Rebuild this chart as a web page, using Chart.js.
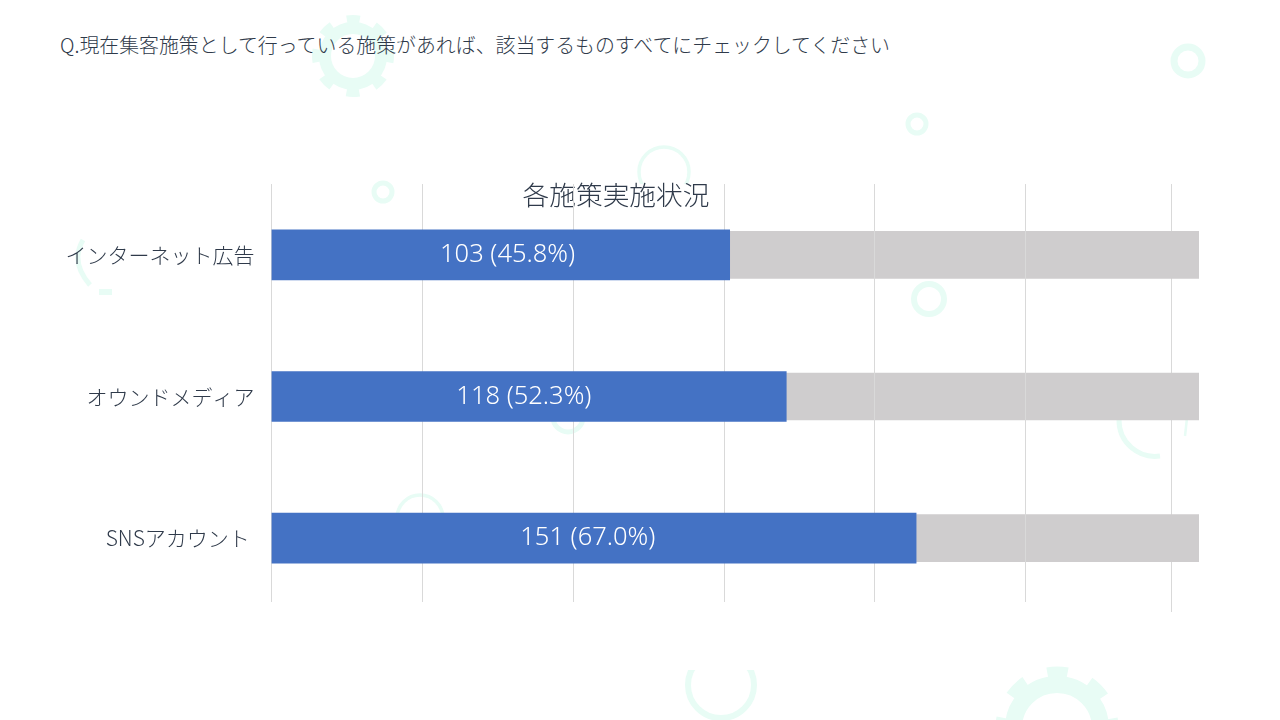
<!DOCTYPE html>
<html lang="ja">
<head>
<meta charset="utf-8">
<title>各施策実施状況</title>
<script src="https://cdn.jsdelivr.net/npm/chart.js@4"></script>
<style>
  html, body { margin: 0; padding: 0; background: #fff; overflow: hidden; }
  #stage { position: relative; width: 1280px; height: 720px; }
  #decor, #chart { position: absolute; left: 0; top: 0; }
  #question {
    position: absolute; left: 60px; top: 30px; white-space: nowrap;
    font: 300 19.9px "Noto Sans CJK JP", sans-serif; line-height: 30px; color: #2f3a4a;
  }
</style>
</head>
<body>
<div id="stage">
  <svg id="decor" width="1280" height="720" fill="none" stroke="#e8fcf5">
    <circle cx="353" cy="56" r="28" stroke-width="12"/>
    <circle cx="353" cy="56" r="37" stroke-width="8" stroke-dasharray="13 16.06" stroke-dashoffset="6.5"/>
    <circle cx="664" cy="172" r="25" stroke-width="3.5"/>
    <rect x="630" y="184" width="70" height="20" fill="#fff" stroke="none"/>
    <circle cx="1188" cy="61" r="14" stroke-width="7"/>
    <circle cx="917" cy="124" r="9" stroke-width="5"/>
    <circle cx="383" cy="192" r="9" stroke-width="5"/>
    <circle cx="929" cy="299" r="15" stroke-width="6"/>
    <circle cx="568" cy="417" r="15" stroke-width="5"/>
    <circle cx="420" cy="518" r="23" stroke-width="3.5"/>
    <path d="M83 240 Q70 262 90 285" stroke-width="5"/>
    <rect x="99" y="289" width="13" height="6" fill="#e8fcf5" stroke="none"/>
    <path d="M1119 420 A36 36 0 0 0 1160 456" stroke-width="5"/>
    <path d="M1187 418 L1185 436" stroke-width="2.5"/>
    <circle cx="721" cy="685" r="33" stroke-width="6"/>
    <rect x="680" y="640" width="80" height="30" fill="#fff" stroke="none"/>
    <circle cx="1057" cy="728" r="43.5" stroke-width="17"/>
    <circle cx="1057" cy="728" r="55" stroke-width="13" stroke-dasharray="20 23.2" stroke-dashoffset="10"/>
  </svg>
  <div id="question">Q.現在集客施策として行っている施策があれば、該当するものすべてにチェックしてください</div>
  <canvas id="chart" width="1280" height="720"></canvas>
</div>
<script>
const categories = ["インターネット広告", "オウンドメディア", "SNSアカウント "];
const counts = [103, 118, 151];
const percents = ["45.8", "52.3", "67.0"];
// bar lengths as drawn in the picture, share of the full track
const doneShare = [49.4, 55.5, 69.5];
const restShare = [50.6, 44.5, 30.5];
const gridTicks = [0, 16.27, 32.54, 48.8, 65, 81.3, 97];

const labelNudge = [7, -5, -6];

const gridLines = {
  id: "gridLines",
  drawLine(chart, value, bottom) {
    const x = Math.floor(chart.scales.x.getPixelForValue(value)) + 0.5;
    const ctx = chart.ctx;
    ctx.save();
    ctx.strokeStyle = "#d9d9d9";
    ctx.lineWidth = 1;
    ctx.beginPath();
    ctx.moveTo(x, chart.chartArea.top);
    ctx.lineTo(x, bottom);
    ctx.stroke();
    ctx.restore();
  },
  // the last line sits behind the grey track and runs a little longer
  beforeDatasetsDraw(chart) {
    this.drawLine(chart, gridTicks[gridTicks.length - 1], 612);
  },
  // the others show through the grey track but stay behind the blue bars
  afterDatasetDraw(chart, args) {
    if (args.index !== 1) return;
    gridTicks.slice(0, -1).forEach(v => this.drawLine(chart, v, 602));
  }
};

const barLabels = {
  id: "barLabels",
  afterDatasetsDraw(chart) {
    const ctx = chart.ctx;
    ctx.save();
    ctx.fillStyle = "#ffffff";
    ctx.font = '300 25.5px "Noto Sans", sans-serif';
    ctx.textAlign = "center";
    ctx.textBaseline = "middle";
    chart.getDatasetMeta(0).data.forEach((bar, i) => {
      const left = chart.scales.x.getPixelForValue(0);
      ctx.fillText(counts[i] + " (" + percents[i] + "%)", (left + bar.x) / 2 + labelNudge[i], bar.y);
    });
    ctx.restore();
  }
};

new Chart(document.getElementById("chart"), {
  type: "bar",
  plugins: [gridLines, barLabels],
  data: {
    labels: categories,
    datasets: [
      { label: "実施", data: doneShare, backgroundColor: "#4472c4", barThickness: 50, order: 1 },
      { label: "未実施", data: restShare, backgroundColor: "#cfcdce", barThickness: 47, order: 2 }
    ]
  },
  options: {
    indexAxis: "y",
    responsive: false,
    animation: false,
    layout: { padding: { left: 33, right: 81, top: 179, bottom: 111 } },
    plugins: {
      legend: { display: false },
      tooltip: { enabled: false },
      title: {
        display: true,
        text: "各施策実施状況",
        color: "#2f3a4a",
        font: { family: '"Noto Sans CJK JP", sans-serif', size: 26.7, weight: "300", lineHeight: 1.2 },
        padding: { top: 0, bottom: -27 }
      }
    },
    scales: {
      x: { display: false, stacked: true, min: 0, max: 100 },
      y: {
        stacked: true,
        border: { display: false },
        grid: { display: false },
        afterFit(scale) { scale.width = 238.5; },
        ticks: {
          color: "#2f3a4a",
          padding: 9,
          font: { family: '"Noto Sans CJK JP", sans-serif', size: 21, weight: "300" }
        }
      }
    }
  }
});
</script>
</body>
</html>
